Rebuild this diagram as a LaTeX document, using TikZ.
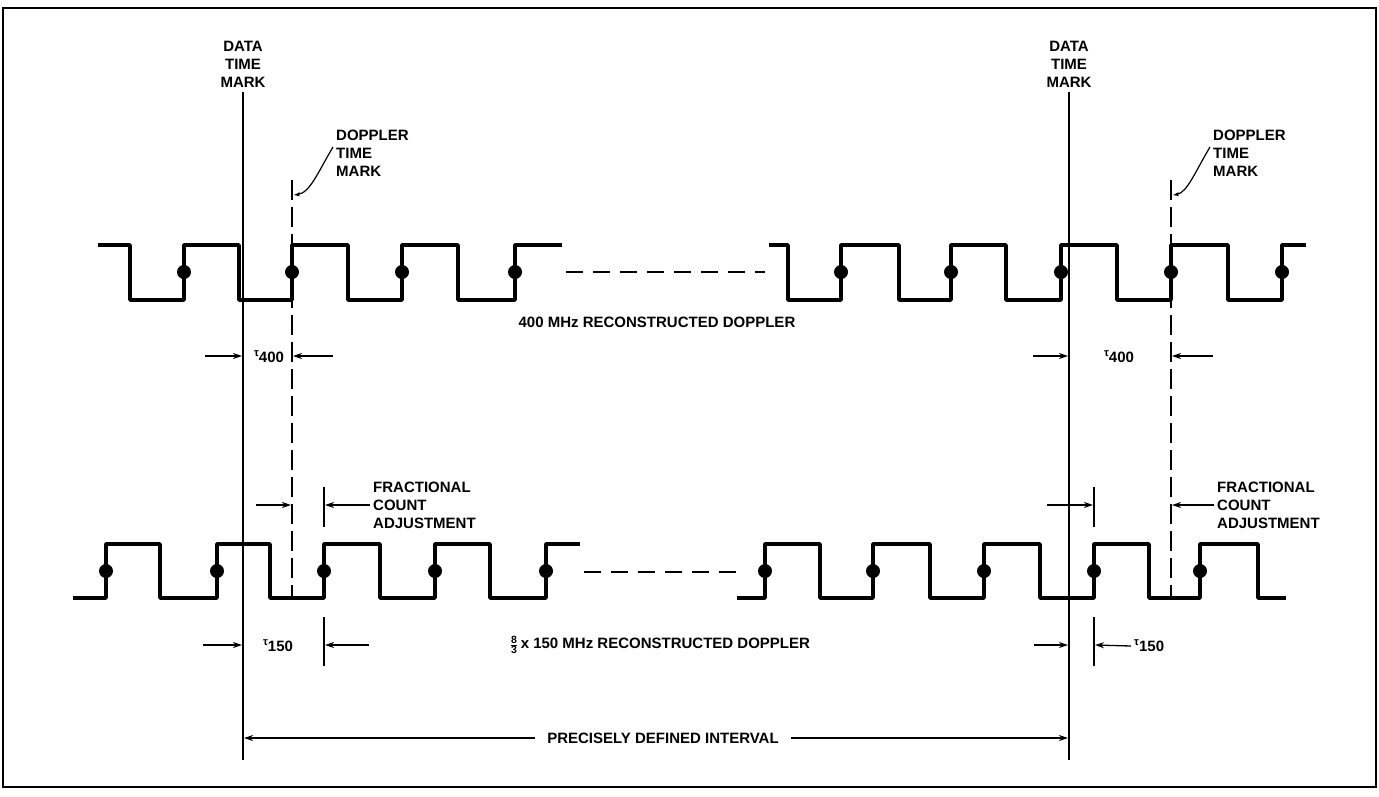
\documentclass[tikz,border=0pt]{standalone}
\usepackage{fontspec}
\usepackage{amsmath}
\setmainfont{Liberation Sans}
\usetikzlibrary{arrows.meta, positioning}

\newcommand{\tausub}[1]{\raisebox{0.4em}{\fontsize{11}{11}\selectfont τ}#1}

\begin{document}
\begin{tikzpicture}[
  x=1pt, y=-1pt,
  every node/.style = {font=\fontsize{15}{18}\selectfont\bfseries, inner sep=0pt},
  frame/.style   = {line width=1.6pt},
  wave/.style    = {line width=3.6pt, line join=round},
  datamark/.style = {line width=1.3pt},
  dopmark/.style = {line width=1.8pt, dash pattern=on 20pt off 7pt},
  gapdash/.style = {line width=2.6pt, dash pattern=on 17pt off 10pt},
  dimtick/.style = {line width=1.5pt},
  dimarr/.style  = {-{Stealth[length=9pt, width=6pt]}, line width=1.3pt},
  leader/.style  = {-{Stealth[length=6pt, width=4pt]}, line width=1.2pt},
]

% Page and frame
\fill[white] (0,0) rectangle (1379,796);
\useasboundingbox (0,0) rectangle (1379,796);
\draw[frame] (3,8) rectangle (1376,787);

% Time marks
\coordinate (dmL) at (243,92);
\coordinate (dmR) at (1069,92);
\coordinate (tmL) at (292,180);
\coordinate (tmR) at (1171,180);
\draw[datamark] (dmL) -- (243,760);
\draw[datamark] (dmR) -- (1069,760);
\draw[dopmark] (tmL) -- (292,598);
\draw[dopmark] (tmR) -- (1171,598);

\node[align=center, anchor=south] (dataL) at (243,88) {DATA\\TIME\\MARK};
\node[align=center, anchor=south] (dataR) at (1069,88) {DATA\\TIME\\MARK};
\node[align=left, anchor=north west] (dopL) at (336,130) {DOPPLER\\TIME\\MARK};
\node[align=left, anchor=north west] (dopR) at (1213,130) {DOPPLER\\TIME\\MARK};

\draw[leader] ([shift={(-3,17)}]dopL.north west) .. controls (318,172) and (310,193) .. (294,195);
\draw[leader] ([shift={(-3,17)}]dopR.north west) .. controls (1195,172) and (1187,193) .. (1173,195);

% 400 MHz reconstructed doppler
\draw[wave] (98,245) -| (130,300) -| (184,245) -| (239,300) -| (292,245) -| (348,300)
  -| (402,245) -| (458,300) -| (515,245) -- (562,245);
\draw[wave] (769,245) -| (788,300) -| (841,245) -| (899,300) -| (951,245) -| (1006,300)
  -| (1061,245) -| (1117,300) -| (1171,245) -| (1228,300) -| (1282,245) -- (1306,245);
\foreach \x in {184,292,402,515,841,951,1061,1171,1282}
  \fill (\x,272) circle[radius=7];
\draw[gapdash] (566,272) -- (765,272);
\node (top) at (657,322) {400 MHz RECONSTRUCTED DOPPLER};

% tau 400
\node (tauA) at (269,357) {\tausub{400}};
\node (tauB) at (1119,357) {\tausub{400}};
\draw[dimarr] (205,356) -- (242,356);
\draw[dimarr] (333,356) -- (293,356);
\draw[dimarr] (1033,356) -- (1068,356);
\draw[dimarr] (1213,356) -- (1172,356);

% Fractional count adjustment
\node[align=left, anchor=west] (fracL) at (373,505) {FRACTIONAL\\COUNT\\ADJUSTMENT};
\node[align=left, anchor=west] (fracR) at (1217,505) {FRACTIONAL\\COUNT\\ADJUSTMENT};
\draw[dimtick] (324,487) -- (324,527);
\draw[dimtick] (1094,487) -- (1094,527);
\draw[dimarr] (256,505) -- (291,505);
\draw[dimarr] ([xshift=-3pt]fracL.west) -- (325,505);
\draw[dimarr] (1047,505) -- (1093,505);
\draw[dimarr] ([xshift=-3pt]fracR.west) -- (1172,505);

% 8/3 x 150 MHz reconstructed doppler
\draw[wave] (73,598) -| (106,544) -| (160,598) -| (217,544) -| (270,598) -| (324,544)
  -| (380,598) -| (435,544) -| (490,598) -| (546,544) -- (580,544);
\draw[wave] (737,598) -| (765,544) -| (820,598) -| (873,544) -| (930,598) -| (984,544)
  -| (1040,598) -| (1094,544) -| (1149,598) -| (1200,544) -| (1258,598) -- (1286,598);
\foreach \x in {106,217,324,435,546,765,873,984,1094,1200}
  \fill (\x,571) circle[radius=7];
\draw[gapdash] (584,572) -- (742,572);
\node (bot) at (660,645) {$\frac{\text{8}}{\text{3}}$\,x 150 MHz RECONSTRUCTED DOPPLER};

% tau 150
\node (tauC) at (278,646) {\tausub{150}};
\node[anchor=west] (tauD) at (1134,646) {\tausub{150}};
\draw[dimtick] (324,617) -- (324,666);
\draw[dimtick] (1094,617) -- (1094,666);
\draw[dimarr] (203,645) -- (242,645);
\draw[dimarr] (369,645) -- (325,645);
\draw[dimarr] (1034,645) -- (1068,645);
\draw[dimarr] ([xshift=-3pt]tauD.west) -- (1095,645);

% Precisely defined interval
\node (intv) at (663,738) {PRECISELY DEFINED INTERVAL};
\draw[dimarr] ([xshift=-12pt]intv.west) -- (244,738);
\draw[dimarr] ([xshift=12pt]intv.east) -- (1068,738);

\end{tikzpicture}
\end{document}
